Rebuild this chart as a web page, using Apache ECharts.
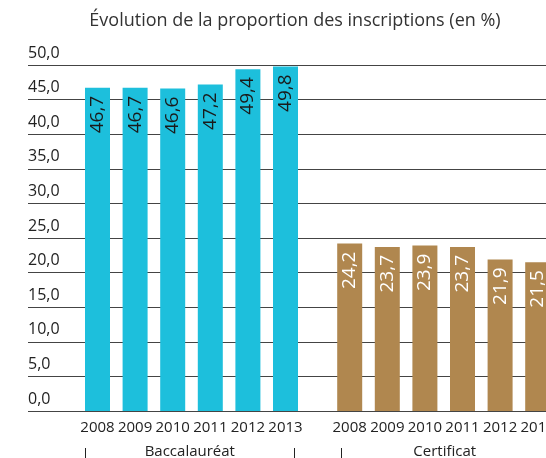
<!DOCTYPE html>
<html>
<head>
    <meta charset="utf-8">
    <script src="https://cdn.jsdelivr.net/npm/echarts@6/dist/echarts.min.js"></script>
    <style>
        html, body { margin: 0; padding: 0; background: #ffffff; }
        #chart { width: 546px; height: 458px; }
    </style>
</head>
<body>
    <div id="chart"></div>
    <script>
        // données
        var years = ['2008', '2009', '2010', '2011', '2012', '2013'];
        var bacValues = [46.7, 46.7, 46.6, 47.2, 49.4, 49.8];
        var certValues = [24.2, 23.7, 23.9, 23.7, 21.9, 21.5];
        var groups = ['Baccalauréat', 'Certificat'];

        var FONT = 'Open Sans';
        var fmt = function (v) { return Number(v).toFixed(1).replace('.', ','); };

        var chart = echarts.init(document.getElementById('chart'));

        var barLabel = function (color) {
            return {
                show: true,
                position: 'insideTop',
                distance: 8,
                rotate: 90,
                align: 'right',
                verticalAlign: 'middle',
                color: color,
                fontFamily: FONT,
                fontSize: 19,
                formatter: function (p) { return fmt(p.value); }
            };
        };

        var yearAxis = function (idx) {
            return {
                gridIndex: idx,
                type: 'category',
                data: years,
                axisLine: { show: false },
                axisTick: { show: false },
                axisLabel: { interval: 0, color: '#222', fontFamily: FONT, fontSize: 15, margin: 9 }
            };
        };

        var groupAxis = function (idx, name) {
            return {
                gridIndex: idx,
                type: 'category',
                data: [name],
                axisLine: { show: false },
                axisTick: { show: true, length: 12, lineStyle: { color: '#222', width: 1 } },
                axisLabel: { color: '#222', fontFamily: FONT, fontSize: 15, margin: -4 }
            };
        };

        var hiddenY = function (idx) {
            return { gridIndex: idx, type: 'value', min: 0, max: 50, show: false };
        };

        // grilles : pas de recadrage automatique (le graphique d'origine est coupé à droite)
        var mkGrid = function (left, right, bottom) {
            return { left: left, right: right, top: 65, bottom: bottom, outerBoundsMode: 'none', containLabel: false };
        };

        var option = {
            animation: false,
            title: {
                text: 'Évolution de la proportion des inscriptions (en %)',
                left: 290,
                top: 7,
                textAlign: 'center',
                textStyle: { color: '#333', fontFamily: FONT, fontSize: 18, fontWeight: 'normal' }
            },
            grid: [
                mkGrid(28, 0, 47),
                mkGrid(78.7, 241.7, 47),
                mkGrid(330.9, -10.5, 47),
                mkGrid(85.3, 251.7, 10),
                mkGrid(341, -2.5, 10)
            ],
            xAxis: [
                { gridIndex: 0, type: 'value', show: false },
                yearAxis(1),
                yearAxis(2),
                groupAxis(3, groups[0]),
                groupAxis(4, groups[1])
            ],
            yAxis: [
                {
                    gridIndex: 0,
                    type: 'value',
                    min: 0,
                    max: 50,
                    interval: 5,
                    axisLine: { show: false },
                    axisTick: { show: false },
                    splitLine: { show: true, lineStyle: { color: '#444', width: 1 } },
                    axisLabel: {
                        inside: true,
                        margin: 0,
                        align: 'left',
                        verticalAlign: 'bottom',
                        padding: [0, 0, 4, 0],
                        color: '#222',
                        fontFamily: FONT,
                        fontSize: 16,
                        formatter: fmt
                    }
                },
                hiddenY(1),
                hiddenY(2),
                hiddenY(3),
                hiddenY(4)
            ],
            series: [
                {
                    name: groups[0],
                    type: 'bar',
                    xAxisIndex: 1,
                    yAxisIndex: 1,
                    barWidth: 25,
                    data: bacValues,
                    itemStyle: { color: '#1DBFDC' },
                    label: barLabel('#1a1a1a')
                },
                {
                    name: groups[1],
                    type: 'bar',
                    xAxisIndex: 2,
                    yAxisIndex: 2,
                    barWidth: 25,
                    data: certValues,
                    itemStyle: { color: '#B0874F' },
                    label: barLabel('#ffffff')
                }
            ]
        };

        chart.setOption(option);
    </script>
</body>
</html>
